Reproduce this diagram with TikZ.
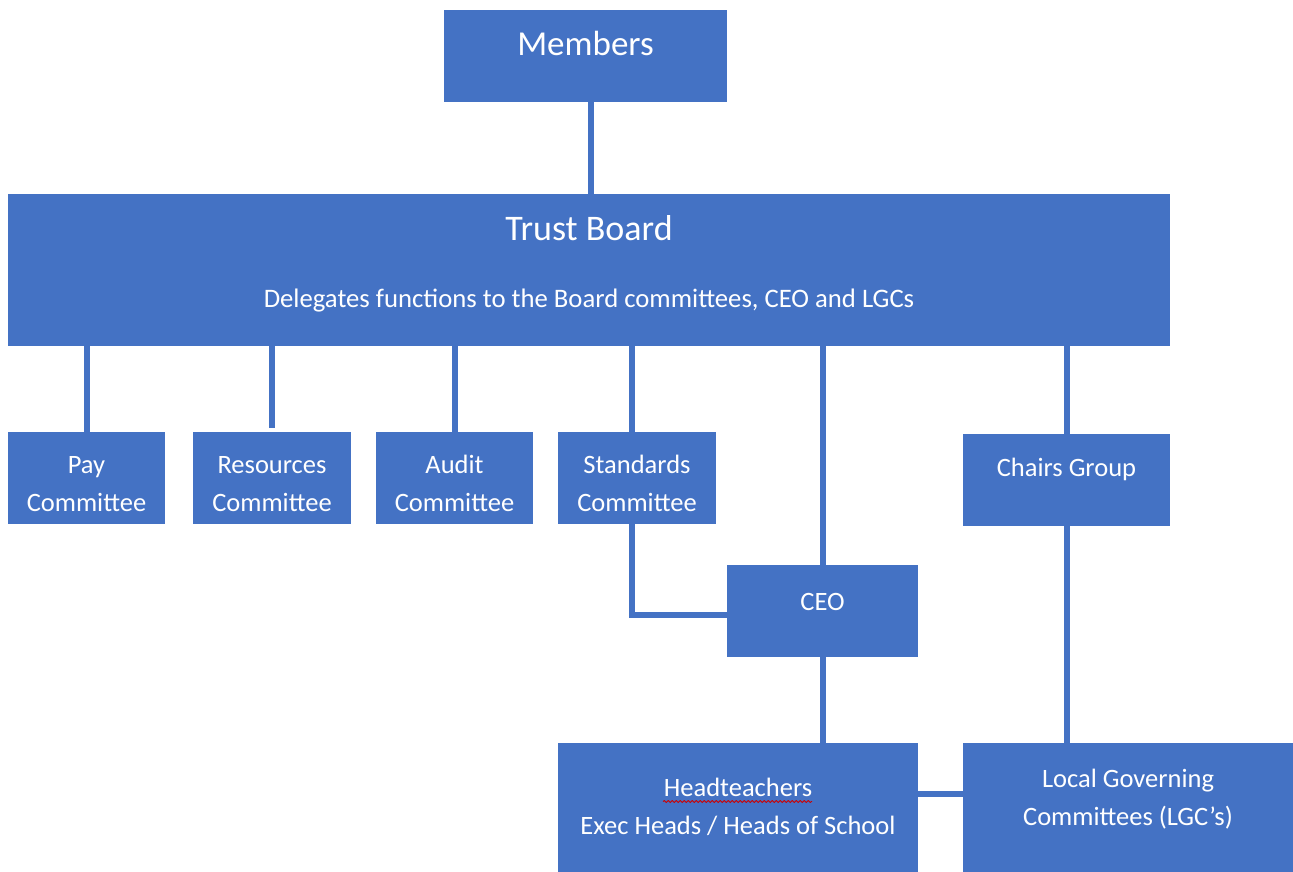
\documentclass[tikz,border=0pt]{standalone}
\usepackage{fontspec}
\setmainfont{Carlito}
\usetikzlibrary{decorations.pathmorphing}
\definecolor{boxblue}{HTML}{4472C4}
\tikzset{
  box/.style={fill=boxblue, text=white, align=center, inner sep=0pt,
    font=\fontsize{26.5}{38}\selectfont},
  link/.style={draw=boxblue, line width=6pt},
  spell/.style={draw=red!80!black, line width=0.9pt, decorate,
    decoration={snake, amplitude=0.9pt, segment length=4pt}},
}
\begin{document}
\begin{tikzpicture}[x=1pt,y=-1pt]
  \useasboundingbox (0,0) rectangle (1293,872);

  \node [box,minimum width=283pt,minimum height=92pt,text depth=26pt,
    font=\fontsize{35}{40}\selectfont] (members) at (585.5,56) {Members};
  \node [box,minimum width=1162pt,minimum height=152pt,text depth=16pt] (board) at (589,270)
    {\fontsize{36}{42}\selectfont Trust Board\\[29pt]
     \fontsize{26.7}{30}\selectfont Delegates functions to the Board committees, CEO and LGCs};

  % committees
  \node [box,minimum width=157pt,minimum height=92pt,text height=68pt] (pay) at (86.5,478) {Pay\\Committee};
  \node [box,minimum width=158pt,minimum height=92pt,text height=68pt] (res) at (272,478) {Resources\\Committee};
  \node [box,minimum width=157pt,minimum height=92pt,text height=68pt] (audit) at (454.5,478) {Audit\\Committee};
  \node [box,minimum width=158pt,minimum height=92pt,text height=68pt] (std) at (637,478) {Standards\\Committee};
  \node [box,minimum width=207pt,minimum height=92pt,text depth=26pt] (chairs) at (1066.5,480) {Chairs Group};

  \node [box,minimum width=191pt,minimum height=92pt,text depth=18pt] (ceo) at (822.5,611) {CEO};
  \node [box,minimum width=360pt,minimum height=129pt,text depth=2pt] (head) at (738,807.5)
    {Headteachers\\Exec Heads / Heads of School};
  \node [box,minimum width=330pt,minimum height=129pt,text depth=20pt] (lgc) at (1128,807.5)
    {Local Governing\\Committees (LGC’s)};

  \draw [link] ([xshift=5.5pt]members.south) coordinate (m) -- (m |- board.north);
  \foreach\n in {pay,audit,chairs,ceo}
    \draw [link] (\n.north) -- (\n.north |- board.south);
  \draw [link,shorten <=4pt] (res.north) -- (res.north |- board.south);
  \draw [link] ([xshift=-5pt]std.north) coordinate (s) -- (s |- board.south);
  \draw [link] ([xshift=-5pt]std.south) |- ([yshift=-4pt]ceo.west);
  \draw [link] (ceo.south) -- (ceo.south |- head.north);
  \draw [link] (chairs.south) -- (chairs.south |- lgc.north);
  \draw [link] ([yshift=14pt]head.east) -- ([yshift=14pt]lgc.west);

  \draw [spell] ([xshift=-75pt,yshift=6pt]head.center) -- ++(149pt,0);
\end{tikzpicture}
\end{document}
